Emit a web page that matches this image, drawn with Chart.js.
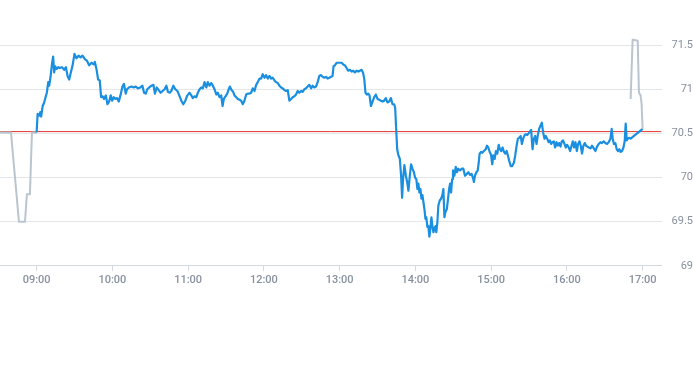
<!DOCTYPE html>
<html>
<head>
<meta charset="utf-8">
<script src="https://cdn.jsdelivr.net/npm/chart.js@4"></script>
<style>
  html, body { margin: 0; padding: 0; background: #fff; }
  #wrap { position: relative; width: 693px; height: 290px; }
</style>
</head>
<body>
<div id="wrap"><canvas id="intraday-chart"></canvas></div>
<script>
// Session window in minutes since midnight
const X_MIN = 511;
const X_MAX = 1035;
const xTickMinutes = [540, 600, 660, 720, 780, 840, 900, 960, 1020];
const yTickValues = [69, 69.5, 70, 70.5, 71, 71.5];
const refPrice = 70.52;

// Pre-market (grey)
const preTimes = [511, 519.7, 526, 530.8, 532.3, 534.7, 536.3, 540];
const prePrices = [70.51, 70.51, 69.5, 69.5, 69.81, 69.81, 70.51, 70.51];

// Main session (blue)
const mainTimes = [
  540.0, 540.8, 542.1, 542.9, 543.6, 544.8, 546.0, 547.1, 548.1, 549.2,
  550.0, 551.1, 552.3, 553.1, 553.9, 554.7, 555.8, 557.1, 558.4, 560.0,
  561.8, 563.2, 564.5, 565.8, 567.1, 568.5, 570.0, 571.6, 573.2, 574.8,
  576.4, 578.2, 580.0, 581.6, 583.5, 585.5, 586.1, 587.4, 588.7, 590.0,
  591.1, 592.4, 593.4, 594.8, 596.1, 597.4, 598.7, 599.8, 601.1, 602.4,
  603.7, 605.1, 606.4, 608.0, 609.2, 610.6, 611.6, 613.2, 615.1, 616.9,
  618.5, 620.3, 622.2, 623.8, 625.1, 626.4, 627.7, 629.3, 630.9, 632.5,
  633.7, 635.1, 636.7, 638.3, 639.8, 641.4, 642.8, 644.0, 645.4, 646.7,
  648.3, 649.9, 651.5, 653.0, 654.6, 656.2, 657.8, 659.4, 661.2, 662.5,
  663.8, 665.1, 666.5, 667.7, 669.1, 670.4, 671.7, 673.0, 674.4, 675.6,
  677.0, 678.3, 679.6, 680.9, 682.3, 683.5, 684.9, 686.2, 687.3, 688.3,
  689.6, 691.0, 692.2, 693.0, 694.4, 695.7, 696.7, 698.1, 699.4, 700.7,
  702.0, 703.3, 704.6, 706.0, 707.3, 708.6, 709.9, 711.2, 712.6, 713.9,
  715.2, 716.5, 717.8, 719.1, 720.5, 721.8, 723.1, 724.4, 725.8, 727.0,
  728.4, 729.7, 731.0, 732.3, 733.7, 734.9, 736.3, 737.6, 738.9, 740.2,
  741.6, 742.8, 744.2, 745.5, 746.8, 748.1, 749.5, 750.7, 752.1, 753.4,
  754.7, 756.0, 757.4, 758.6, 760.0, 761.3, 762.6, 763.9, 765.3, 766.5,
  767.9, 769.2, 770.5, 771.8, 773.2, 774.4, 775.2, 776.3, 777.6, 779.0,
  780.3, 781.6, 782.9, 784.2, 785.5, 786.8, 788.2, 789.5, 790.8, 792.1,
  793.4, 794.8, 796.1, 797.4, 798.5, 799.5, 800.5, 801.6, 802.7, 803.7,
  804.8, 806.1, 807.4, 808.7, 810.0, 811.4, 812.7, 814.0, 815.3, 816.6,
  817.9, 819.3, 820.6, 821.9, 823.2, 824.0, 824.8, 825.6, 826.6, 827.7,
  828.7, 829.5, 830.3, 831.3, 832.5, 833.5, 834.5, 835.6, 836.6, 837.7,
  838.8, 839.8, 840.8, 841.6, 842.4, 843.2, 844.0, 844.8, 845.6, 846.4,
  847.2, 848.0, 848.7, 849.5, 850.3, 851.1, 851.9, 852.7, 853.5, 854.3,
  855.1, 855.9, 856.6, 857.4, 858.2, 859.3, 860.4, 861.4, 862.2, 863.0,
  863.8, 864.9, 865.9, 866.7, 867.5, 868.3, 869.1, 869.8, 870.9, 872.0,
  873.0, 874.0, 875.4, 876.7, 878.0, 879.3, 880.7, 881.9, 883.3, 884.6,
  885.9, 886.4, 887.2, 888.3, 889.4, 890.2, 890.9, 892.0, 893.0, 894.3,
  895.7, 896.7, 897.7, 898.9, 899.9, 900.9, 901.7, 902.8, 903.8, 904.9,
  906.0, 907.0, 908.0, 909.1, 910.2, 911.2, 912.3, 913.3, 914.3, 915.5,
  916.7, 918.1, 919.1, 920.2, 921.2, 922.2, 923.4, 924.4, 925.4, 926.5,
  927.5, 928.6, 929.7, 930.7, 931.7, 932.8, 933.9, 934.9, 936.0, 937.0,
  938.0, 939.2, 940.2, 941.2, 942.3, 943.3, 944.4, 945.5, 946.5, 947.5,
  948.6, 949.7, 950.7, 951.8, 952.8, 953.9, 955.0, 956.0, 957.0, 958.1,
  959.2, 960.2, 961.5, 962.6, 963.7, 964.7, 965.7, 966.8, 967.9, 968.9,
  970.0, 971.0, 972.0, 973.1, 974.2, 975.2, 976.3, 977.3, 978.7, 979.9,
  981.3, 982.6, 983.9, 985.2, 986.6, 987.8, 989.2, 990.5, 991.8, 993.1,
  994.5, 995.5, 996.3, 997.3, 998.4, 999.5, 1000.5, 1001.6, 1002.6, 1003.7,
  1004.8, 1005.8, 1006.6, 1007.4, 1008.2, 1009.5, 1010.5, 1020.0
];
const mainPrices = [
  70.51, 70.72, 70.70, 70.74, 70.69, 70.81, 70.85, 70.91, 70.96, 71.08,
  71.04, 71.15, 71.30, 71.37, 71.19, 71.26, 71.23, 71.25, 71.24, 71.25,
  71.22, 71.25, 71.15, 71.11, 71.19, 71.27, 71.40, 71.35, 71.38, 71.36,
  71.38, 71.34, 71.32, 71.27, 71.30, 71.28, 71.31, 71.23, 71.11, 71.10,
  70.91, 70.92, 70.89, 70.93, 70.83, 70.86, 70.93, 70.87, 70.91, 70.89,
  70.90, 70.86, 70.93, 71.03, 71.06, 70.95, 71.00, 71.02, 71.03, 71.02,
  71.03, 71.01, 71.02, 71.04, 70.96, 70.95, 71.00, 71.02, 71.04, 71.05,
  70.95, 71.02, 70.99, 70.96, 70.98, 71.00, 71.04, 70.97, 70.96, 70.98,
  71.04, 71.00, 70.98, 70.93, 70.87, 70.83, 70.87, 70.93, 70.96, 70.93,
  70.90, 70.92, 70.91, 70.96, 71.00, 71.02, 71.01, 71.08, 71.02, 71.08,
  71.04, 71.07, 71.04, 71.00, 70.94, 70.96, 70.91, 70.93, 70.81, 70.89,
  70.92, 70.95, 71.00, 71.03, 70.99, 70.97, 70.93, 70.91, 70.89, 70.88,
  70.87, 70.83, 70.87, 70.94, 70.95, 70.95, 70.96, 71.01, 70.98, 71.05,
  71.08, 71.12, 71.12, 71.17, 71.13, 71.16, 71.12, 71.15, 71.12, 71.13,
  71.10, 71.08, 71.07, 71.04, 71.02, 71.01, 70.99, 70.98, 70.99, 70.87,
  70.89, 70.91, 70.92, 70.94, 70.98, 70.96, 70.98, 70.97, 71.00, 71.01,
  71.03, 71.05, 71.01, 71.04, 71.02, 71.03, 71.08, 71.15, 71.16, 71.14,
  71.13, 71.14, 71.12, 71.13, 71.14, 71.15, 71.26, 71.27, 71.30, 71.30,
  71.30, 71.30, 71.28, 71.27, 71.24, 71.21, 71.22, 71.20, 71.21, 71.19,
  71.21, 71.20, 71.21, 71.22, 71.19, 71.12, 70.96, 70.94, 70.95, 70.93,
  70.81, 70.86, 70.91, 70.94, 70.89, 70.88, 70.87, 70.86, 70.87, 70.90,
  70.85, 70.86, 70.90, 70.83, 70.83, 70.79, 70.55, 70.32, 70.25, 70.21,
  70.02, 69.77, 69.99, 70.14, 70.02, 69.95, 69.85, 70.02, 70.15, 70.10,
  70.06, 70.00, 69.98, 69.87, 69.93, 69.83, 69.87, 69.76, 69.80, 69.72,
  69.64, 69.53, 69.55, 69.44, 69.45, 69.33, 69.42, 69.55, 69.45, 69.38,
  69.42, 69.45, 69.38, 69.49, 69.68, 69.74, 69.76, 69.80, 69.87, 69.55,
  69.61, 69.64, 69.76, 69.87, 69.93, 69.83, 69.98, 70.08, 70.02, 70.12,
  70.06, 70.10, 70.08, 70.10, 70.10, 70.02, 70.04, 70.06, 70.03, 70.04,
  69.98, 69.95, 70.02, 70.06, 70.08, 70.17, 70.27, 70.29, 70.28, 70.30,
  70.32, 70.36, 70.34, 70.29, 70.26, 70.15, 70.25, 70.21, 70.30, 70.27,
  70.37, 70.32, 70.30, 70.34, 70.29, 70.27, 70.30, 70.25, 70.19, 70.13,
  70.13, 70.17, 70.25, 70.36, 70.44, 70.45, 70.47, 70.38, 70.44, 70.48,
  70.49, 70.48, 70.50, 70.52, 70.54, 70.32, 70.44, 70.47, 70.38, 70.48,
  70.55, 70.59, 70.62, 70.51, 70.44, 70.47, 70.44, 70.40, 70.42, 70.38,
  70.40, 70.41, 70.34, 70.40, 70.36, 70.39, 70.35, 70.41, 70.42, 70.38,
  70.34, 70.37, 70.34, 70.30, 70.36, 70.41, 70.34, 70.40, 70.30, 70.38,
  70.41, 70.36, 70.27, 70.36, 70.39, 70.36, 70.35, 70.34, 70.33, 70.36,
  70.33, 70.30, 70.35, 70.38, 70.40, 70.39, 70.41, 70.39, 70.38, 70.40,
  70.44, 70.55, 70.44, 70.38, 70.39, 70.32, 70.30, 70.32, 70.29, 70.30,
  70.34, 70.41, 70.61, 70.42, 70.44, 70.45, 70.44, 70.55
];

// After-hours (grey)
const postTimes = [1010.5, 1012.1, 1016.1, 1017.1, 1018.4, 1019.2, 1020];
const postPrices = [70.89, 71.56, 71.55, 70.96, 70.93, 70.83, 70.55];

const COLORS = {
  MAIN: '#1a8fe0',
  EXTENDED: '#b9c5cf',
  REF: '#e0362e',
  GRID: '#e3e6ea',
  AXIS: '#d3d9e0',
  TICK_TEXT: '#87919f'
};

function toPoints(times, prices) {
  return times.map((t, i) => ({ x: t, y: prices[i] }));
}

function formatClock(minutes) {
  const h = Math.floor(minutes / 60);
  const m = Math.round(minutes % 60);
  return String(h).padStart(2, '0') + ':' + String(m).padStart(2, '0');
}

function lineSet(data, color, width) {
  return {
    data: data,
    borderColor: color,
    borderWidth: width,
    pointRadius: 0,
    tension: 0,
    fill: false,
    borderJoinStyle: 'round'
  };
}

const ctx = document.getElementById('intraday-chart').getContext('2d');
new Chart(ctx, {
  type: 'line',
  data: {
    datasets: [
      lineSet(toPoints(postTimes, postPrices), COLORS.EXTENDED, 2),
      lineSet(toPoints(mainTimes, mainPrices), COLORS.MAIN, 2.2),
      lineSet(toPoints(preTimes, prePrices), COLORS.EXTENDED, 2),
      lineSet([{ x: X_MIN, y: refPrice }, { x: X_MAX, y: refPrice }], COLORS.REF, 1)
    ]
  },
  options: {
    responsive: true,
    maintainAspectRatio: false,
    animation: false,
    layout: { padding: { top: 23, left: 0, right: 0, bottom: 0 } },
    plugins: {
      legend: { display: false },
      tooltip: { enabled: false }
    },
    scales: {
      x: {
        type: 'linear',
        min: X_MIN,
        max: X_MAX,
        afterBuildTicks: function(axis) {
          axis.ticks = xTickMinutes.map(v => ({ value: v }));
        },
        grid: {
          drawOnChartArea: false,
          drawTicks: true,
          tickLength: 5,
          color: COLORS.AXIS
        },
        border: { color: COLORS.AXIS },
        ticks: {
          autoSkip: false,
          maxRotation: 0,
          padding: 3,
          color: COLORS.TICK_TEXT,
          font: { family: 'Roboto', size: 11, weight: '500' },
          callback: function(value) { return formatClock(value); }
        }
      },
      y: {
        position: 'right',
        min: 69,
        max: 71.75,
        afterBuildTicks: function(axis) {
          axis.ticks = yTickValues.map(v => ({ value: v }));
        },
        grid: { drawTicks: false, color: COLORS.GRID },
        border: { display: false },
        ticks: {
          crossAlign: 'far',
          padding: 5,
          color: COLORS.TICK_TEXT,
          font: { family: 'Roboto', size: 11 },
          callback: function(value) { return String(value); }
        }
      }
    }
  }
});
</script>
</body>
</html>
